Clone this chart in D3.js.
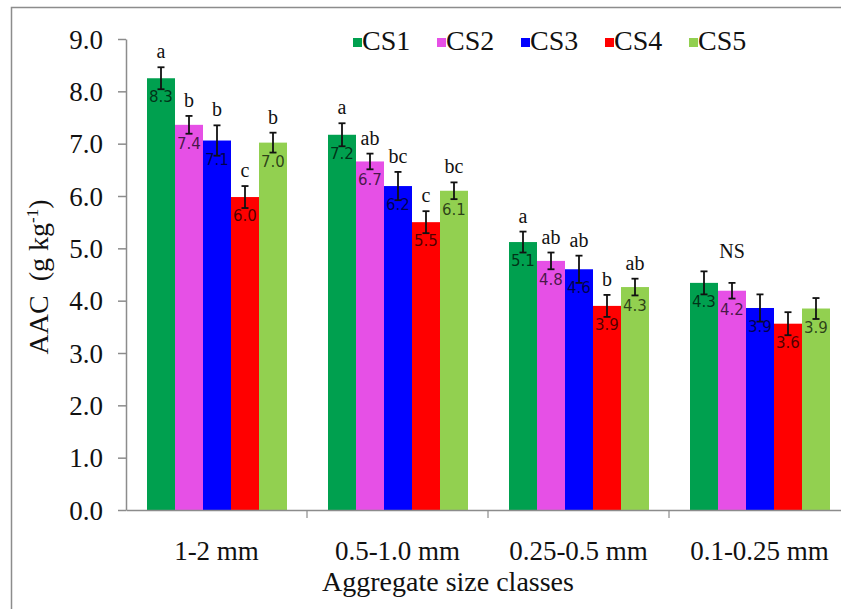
<!DOCTYPE html>
<html><head><meta charset="utf-8">
<script src="https://cdn.jsdelivr.net/npm/d3@7"></script>
<style>
body{margin:0;background:#fff}
.serif{font-family:"Liberation Serif","Times New Roman","DejaVu Serif",serif}
</style>
</head><body>
<svg id="chart" width="841" height="609"></svg>
<script>
const categories = ["1-2 mm", "0.5-1.0 mm", "0.25-0.5 mm", "0.1-0.25 mm"];
const seriesNames = ["CS1", "CS2", "CS3", "CS4", "CS5"];
const seriesColors = ["#00A04F", "#E650E6", "#0000FF", "#FF0000", "#92D050"];
const CS1 = [8.25, 7.17, 5.12, 4.34];
const CS2 = [7.36, 6.66, 4.76, 4.19];
const CS3 = [7.06, 6.19, 4.60, 3.86];
const CS4 = [5.98, 5.50, 3.90, 3.56];
const CS5 = [7.02, 6.10, 4.26, 3.85];
const CS1err = [0.21, 0.22, 0.20, 0.22];
const CS2err = [0.17, 0.15, 0.16, 0.15];
const CS3err = [0.29, 0.27, 0.26, 0.26];
const CS4err = [0.21, 0.21, 0.21, 0.22];
const CS5err = [0.19, 0.16, 0.16, 0.20];
const letters = [
  ["a", "b", "b", "c", "b"],
  ["a", "ab", "bc", "c", "bc"],
  ["a", "ab", "ab", "b", "ab"],
  ["", "NS", "", "", ""]
];
const yTicks = [0, 1, 2, 3, 4, 5, 6, 7, 8, 9];

const values = [CS1, CS2, CS3, CS4, CS5];
const errs = [CS1err, CS2err, CS3err, CS4err, CS5err];

const svg = d3.select("#chart");

// outer frame
svg.append("rect").attr("x", 11.5).attr("y", 7.5).attr("width", 900).attr("height", 700)
  .attr("fill", "none").attr("stroke", "#8c8c8c").attr("stroke-width", 1.5);

const x0 = d3.scaleBand().domain(categories).range([126, 850]).paddingInner(0).paddingOuter(0);
const x1 = d3.scaleBand().domain(seriesNames).range([21, 161]).padding(0);
const y = d3.scaleLinear().domain([0, 9]).range([510, 39]);

// bars
const groups = svg.append("g").selectAll("g").data(categories).join("g")
  .attr("transform", d => `translate(${x0(d)},0)`);

groups.each(function (cat, ci) {
  const g = d3.select(this);
  seriesNames.forEach((s, si) => {
    const v = values[si][ci], e = errs[si][ci];
    const bx = x1(s), bw = x1.bandwidth(), cx = bx + bw / 2;
    g.append("rect").attr("x", bx).attr("y", y(v)).attr("width", bw)
      .attr("height", y(0) - y(v)).attr("fill", seriesColors[si]);
    const eg = g.append("g").attr("stroke", "#111").attr("stroke-width", 1.8);
    eg.append("line").attr("x1", cx).attr("x2", cx).attr("y1", y(v + e)).attr("y2", y(v - e));
    eg.append("line").attr("x1", cx - 3.5).attr("x2", cx + 3.5).attr("y1", y(v + e)).attr("y2", y(v + e));
    eg.append("line").attr("x1", cx - 3.5).attr("x2", cx + 3.5).attr("y1", y(v - e)).attr("y2", y(v - e));
    g.append("text").attr("x", cx).attr("y", y(v) + 24).attr("text-anchor", "middle")
      .style("font-family", "'DejaVu Sans', sans-serif").style("font-size", "15px")
      .attr("fill", "#000").attr("fill-opacity", 0.7).text(v.toFixed(1));
    const L = letters[ci][si];
    if (L) {
      const dy = L === "NS" ? 25 : 9;
      g.append("text").attr("class", "serif").attr("x", cx).attr("y", y(v + e) - dy).attr("text-anchor", "middle")
        .style("font-size", "20px").attr("fill", "#111").text(L);
    }
  });
});

// y axis
const yAxis = d3.axisLeft(y).tickValues(yTicks).tickFormat(d3.format(".1f")).tickSize(8).tickSizeOuter(0);
const ya = svg.append("g").attr("transform", "translate(126,0)").call(yAxis)
  .attr("font-family", null).attr("font-size", null);
ya.select(".domain").attr("stroke", "#8c8c8c").attr("stroke-width", 1.5);
ya.selectAll(".tick line").attr("stroke", "#8c8c8c").attr("stroke-width", 1.5);
ya.selectAll(".tick text").attr("class", "serif").style("font-size", "27px").attr("fill", "#111")
  .attr("x", -23).attr("dy", "0.34em");

// x axis
const xAxis = d3.axisBottom(x0).tickSize(0).tickSizeOuter(0);
const xa = svg.append("g").attr("transform", "translate(0,510)").call(xAxis)
  .attr("font-family", null).attr("font-size", null);
xa.select(".domain").attr("stroke", "#8c8c8c").attr("stroke-width", 1.5);
xa.selectAll(".tick text").attr("class", "serif").style("font-size", "27px").attr("fill", "#111")
  .attr("y", 50).attr("dy", "0");
svg.append("g").selectAll("line").data(categories.slice(1)).join("line")
  .attr("x1", d => x0(d)).attr("x2", d => x0(d)).attr("y1", 510).attr("y2", 518)
  .attr("stroke", "#8c8c8c").attr("stroke-width", 1.2);

// axis titles
svg.append("text").attr("class", "serif").attr("x", 448).attr("y", 591).attr("text-anchor", "middle")
  .style("font-size", "28px").attr("fill", "#111").text("Aggregate size classes");
const yt = svg.append("text").attr("class", "serif").attr("transform", "translate(48,277) rotate(-90)")
  .attr("text-anchor", "middle").style("font-size", "28px").attr("fill", "#111");
yt.append("tspan").text("AAC\u00A0\u00A0(g kg");
yt.append("tspan").attr("dy", -10).style("font-size", "17px").text("-1");
yt.append("tspan").attr("dy", 10).text(")");

// legend
const leg = svg.append("g").selectAll("g").data(seriesNames).join("g")
  .attr("transform", (d, i) => `translate(${353 + i * 84},0)`);
leg.append("rect").attr("x", 0).attr("y", 38).attr("width", 9).attr("height", 9)
  .attr("fill", (d, i) => seriesColors[i]);
leg.append("text").attr("class", "serif").attr("x", 9).attr("y", 50).style("font-size", "28px")
  .attr("fill", "#111").text(d => d);
</script>
</body></html>
